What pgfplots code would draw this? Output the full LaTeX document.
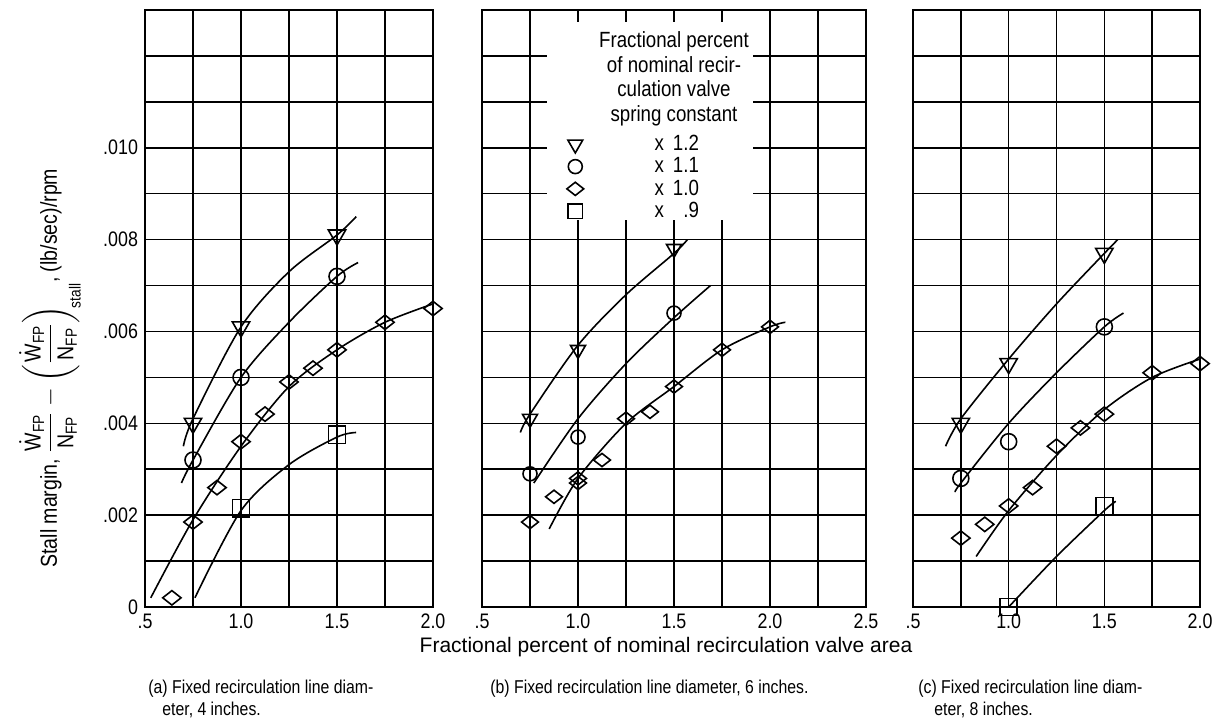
\documentclass[border=0pt]{standalone}
\usepackage{amsmath}
\usepackage{fontspec}
\setmainfont{Liberation Sans}[FakeStretch=0.85]
\newfontfamily\widefont{Liberation Sans}
\usepackage{pgfplots}
\pgfplotsset{compat=1.18}
\begin{document}
\begin{tikzpicture}
\pgfplotsset{
  panel/.style={
    scale only axis,
    height=298.5pt,
    xmin=0.5, ymin=0, ymax=0.013,
    ytick={0,0.001,0.002,0.003,0.004,0.005,0.006,0.007,0.008,0.009,0.010,0.011,0.012,0.013},
    yticklabels={},
    scaled y ticks=false,
    grid=major,
    grid style={black, line width=0.75pt},
    major tick length=0pt,
    axis line style={black, line width=1pt},
    tick label style={font=\fontsize{10.5}{12}\selectfont},
    /pgf/number format/assume math mode=true,
    clip=false,
  },
  dat/.style={only marks, black, mark size=4pt, mark options={line width=0.8pt, fill=white}},
  tri/.style={dat, mark=triangle, mark size=5pt, mark options={rotate=180, line width=0.8pt, fill=white}},
  cir/.style={dat, mark=o},
  dia/.style={dat, mark=diamond, mark size=3.6pt, mark options={xscale=1.7, line width=0.8pt, fill=white}},
  squ/.style={dat, mark=square, mark size=4.3pt},
  crv/.style={black, line width=0.8pt, smooth, no marks},
}
\path[use as bounding box] (0,0) rectangle (606.5pt,361pt);

% ---------- panel (a) ----------
\begin{axis}[panel, at={(72.5pt,57.5pt)}, anchor=south west, width=144pt,
  xmax=2.0,
  xtick={0.5,0.75,1.0,1.25,1.5,1.75,2.0},
  xticklabels={.5,,1.0,,1.5,,2.0},
  yticklabels={0,,.002,,.004,,.006,,.008,,.010,,,},
  ylabel={Stall margin, $\dfrac{\dot{\text{W}}_{\text{FP}}}{\text{N}_{\text{FP}}}-\left(\dfrac{\dot{\text{W}}_{\text{FP}}}{\text{N}_{\text{FP}}}\right)_{\!\text{stall}}$, (lb/sec)/rpm},
  ylabel style={at={(axis description cs:-0.33,0.40)}, anchor=center, inner sep=0pt, font=\fontsize{11.5}{13}\selectfont},
]
\addplot[crv] coordinates {(0.70,0.0035) (0.75,0.0041) (1.0,0.0061) (1.25,0.0073) (1.5,0.0081) (1.6,0.0085)};
\addplot[crv] coordinates {(0.69,0.0027) (0.75,0.0032) (1.0,0.0050) (1.25,0.0062) (1.5,0.0072) (1.61,0.0075)};
\addplot[crv] coordinates {(0.53,0.0002) (0.75,0.0019) (1.0,0.0035) (1.25,0.0048) (1.5,0.0056) (1.75,0.0062) (2.0,0.0066)};
\addplot[crv] coordinates {(0.76,0.0002) (1.0,0.0021) (1.25,0.0031) (1.5,0.0037) (1.6,0.0038)};
\addplot[tri] coordinates {(0.75,0.0040) (1.0,0.0061) (1.5,0.0081)};
\addplot[cir] coordinates {(0.75,0.0032) (1.0,0.0050) (1.5,0.0072)};
\addplot[dia] coordinates {(0.64,0.0002) (0.75,0.00185) (0.875,0.0026) (1.0,0.0036) (1.125,0.0042) (1.25,0.0049) (1.375,0.0052) (1.5,0.0056) (1.75,0.0062) (2.0,0.0065)};
\addplot[squ] coordinates {(1.0,0.00215) (1.5,0.00375)};
\end{axis}

% ---------- panel (b) ----------
\begin{axis}[panel, at={(241pt,57.5pt)}, anchor=south west, width=192pt,
  xmax=2.5,
  xtick={0.5,0.75,1.0,1.25,1.5,1.75,2.0,2.25,2.5},
  xticklabels={.5,,1.0,,1.5,,2.0,,2.5},
  xlabel={\widefont Fractional percent of nominal recirculation valve area},
  xlabel style={font=\fontsize{10.5}{12}\selectfont, xshift=-4pt, yshift=2.5pt},
  legend style={at={(axis description cs:0.22,0.796)}, anchor=north west, draw=none, fill=none,
    font=\fontsize{11}{12}\selectfont, row sep=-1pt, inner sep=0pt,
    nodes={inner sep=1.5pt}},
  legend cell align=left,
]
\fill[white] (axis cs:0.839,0.00843) rectangle (axis cs:1.911,0.01274);
\node[align=center, font=\fontsize{11}{12.2}\selectfont] at (axis cs:1.5,0.0115)
  {Fractional percent\\of nominal recir-\\culation valve\\spring constant};
\addplot[crv, forget plot] coordinates {(0.70,0.0038) (0.75,0.0042) (1.0,0.0057) (1.25,0.0068) (1.5,0.0077) (1.57,0.0080)};
\addplot[crv, forget plot] coordinates {(0.77,0.0027) (1.0,0.0041) (1.25,0.0053) (1.5,0.0063) (1.69,0.0070)};
\addplot[crv, forget plot] coordinates {(0.85,0.0017) (1.0,0.0028) (1.25,0.0040) (1.5,0.0048) (1.75,0.0056) (2.0,0.0061) (2.08,0.0062)};
\addplot[tri, mark size=4.3pt] coordinates {(0.75,0.0041) (1.0,0.0056) (1.5,0.0078)};
\addlegendentry{\hspace*{34pt}x\, 1.2}
\addplot[cir, mark size=3.5pt] coordinates {(0.75,0.0029) (1.0,0.0037) (1.5,0.0064)};
\addlegendentry{\hspace*{34pt}x\, 1.1}
\addplot[dia, mark size=3.3pt] coordinates {(0.75,0.00185) (0.875,0.0024) (1.0,0.0028) (1.0,0.0027) (1.125,0.0032) (1.25,0.0041) (1.375,0.00425) (1.5,0.0048) (1.75,0.0056) (2.0,0.0061)};
\addlegendentry{\hspace*{34pt}x\, 1.0}
\addlegendimage{squ, mark size=3.6pt}
\addlegendentry{\hspace*{34pt}x\, \phantom{1}.9}
\end{axis}

% ---------- panel (c) ----------
\begin{axis}[panel, at={(456.5pt,57.5pt)}, anchor=south west, width=143.5pt,
  xmax=2.0,
  xtick={0.5,0.75,1.0,1.25,1.5,1.75,2.0},
  xticklabels={.5,,1.0,,1.5,,2.0},
]
\addplot[crv] coordinates {(0.67,0.0035) (0.75,0.0041) (1.0,0.0054) (1.25,0.0066) (1.5,0.0077) (1.57,0.0080)};
\addplot[crv] coordinates {(0.72,0.0025) (0.75,0.0027) (1.0,0.0040) (1.25,0.0051) (1.5,0.0061) (1.60,0.0064)};
\addplot[crv] coordinates {(0.83,0.0011) (1.0,0.0021) (1.25,0.0033) (1.5,0.0043) (1.75,0.0050) (2.0,0.0054)};
\addplot[crv] coordinates {(1.0,0.0) (1.25,0.0011) (1.5,0.0021) (1.56,0.0023)};
\addplot[tri] coordinates {(0.75,0.0040) (1.0,0.0053) (1.5,0.0077)};
\addplot[cir] coordinates {(0.75,0.0028) (1.0,0.0036) (1.5,0.0061)};
\addplot[dia] coordinates {(0.75,0.0015) (0.875,0.0018) (1.0,0.0022) (1.125,0.0026) (1.25,0.0035) (1.375,0.0039) (1.5,0.0042) (1.75,0.0051) (2.0,0.0053)};
\addplot[squ] coordinates {(1.0,0.0) (1.5,0.0022)};
\end{axis}

% ---------- captions ----------
\node[anchor=north west, align=left, font=\fontsize{9.3}{11}\selectfont, inner sep=0pt] at (74pt,21pt)
  {(a) Fixed recirculation line diam-\\\hspace*{7pt}eter, 4 inches.};
\node[anchor=north west, align=left, font=\fontsize{9.3}{11}\selectfont, inner sep=0pt] at (245pt,21pt)
  {(b) Fixed recirculation line diameter, 6 inches.};
\node[anchor=north west, align=left, font=\fontsize{9.3}{11}\selectfont, inner sep=0pt] at (459pt,21pt)
  {(c) Fixed recirculation line diam-\\\hspace*{8pt}eter, 8 inches.};
\end{tikzpicture}
\end{document}
